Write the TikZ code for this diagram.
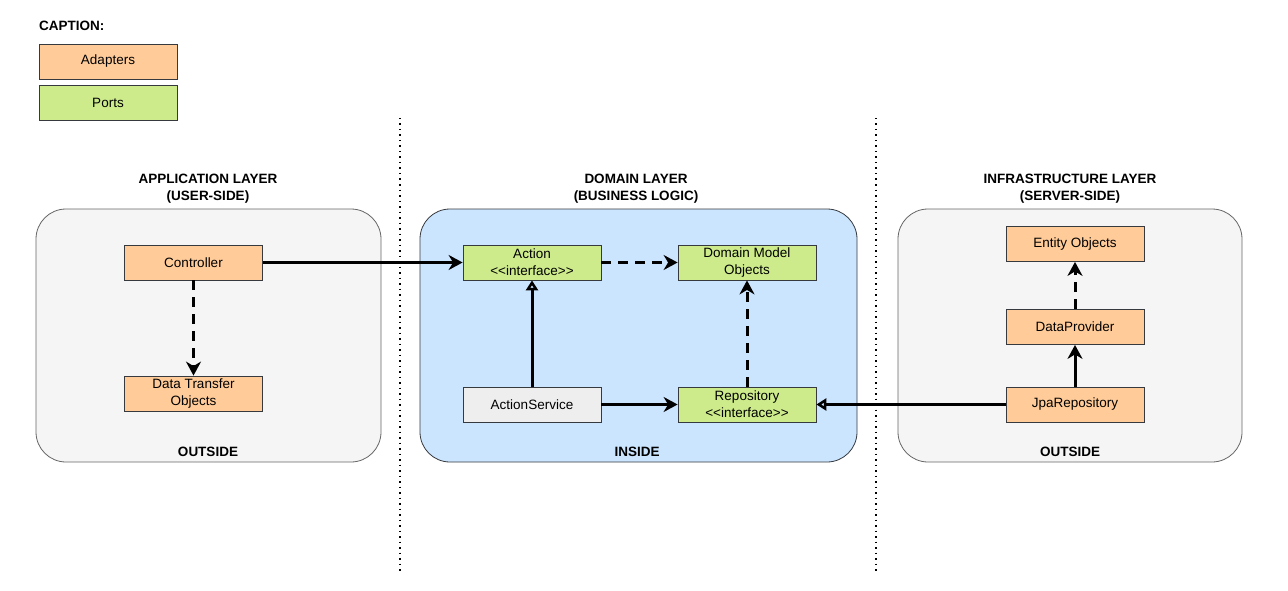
\documentclass[tikz,border=0pt]{standalone}
\usepackage{fontspec}
\setmainfont{Liberation Sans}
\usetikzlibrary{arrows.meta}
\definecolor{adapterfill}{HTML}{FFCC99}
\definecolor{portfill}{HTML}{CDEB8B}
\definecolor{boxline}{HTML}{36393D}
\definecolor{layerfill}{HTML}{F5F5F5}
\definecolor{layerline}{HTML}{666666}
\definecolor{domainfill}{HTML}{CCE5FF}
\definecolor{servicefill}{HTML}{EEEEEE}
\begin{document}
\begin{tikzpicture}[x=1pt,y=-1pt,
  font=\fontsize{13.5}{17}\selectfont,
  layer/.style={draw=layerline, fill=layerfill, rounded corners=30pt, line width=0.8pt},
  box/.style={draw=boxline, line width=0.8pt, minimum width=138pt, minimum height=35pt, align=center, inner sep=1pt},
  adapter/.style={box, fill=adapterfill},
  port/.style={box, fill=portfill},
  service/.style={box, fill=servicefill},
  title/.style={font=\fontsize{13.5}{17}\selectfont\bfseries, align=center},
  link/.style={line width=3pt, -{Stealth[length=14pt, width=15pt, inset=4.5pt]}},
  dep/.style={link, dash pattern=on 10pt off 7pt},
  impl/.style={line width=3pt, -{Triangle[open, length=10pt, width=12pt, line width=2.6pt]}},
  sep/.style={line width=1.5pt, dash pattern=on 1.5pt off 4pt}
]
\useasboundingbox (0,0) rectangle (1288,591);

% legend
\node[anchor=west, inner sep=0pt, font=\fontsize{13.5}{16}\selectfont\bfseries] (cap) at (39,26) {CAPTION:};
\node[adapter] (legA) at (108,61.5) {Adapters};
\node[port] (legP) at (108,103) {Ports};

% layer separators
\coordinate (s1a) at (400,118); \coordinate (s1b) at (400,572);
\coordinate (s2a) at (876,118); \coordinate (s2b) at (876,572);
\draw[sep] (s1a) -- (s1b);
\draw[sep] (s2a) -- (s2b);

% layer containers
\draw[layer] (36,209) rectangle (381,462);
\draw[layer, fill=domainfill, draw=boxline] (420,209) rectangle (857,462);
\draw[layer] (898,209) rectangle (1242,462);

% layer titles
\node[title] (tApp) at (208,189) {APPLICATION LAYER\\(USER-SIDE)};
\node[title] (tDom) at (636,189) {DOMAIN LAYER\\(BUSINESS LOGIC)};
\node[title] (tInf) at (1070,189) {INFRASTRUCTURE LAYER\\(SERVER-SIDE)};
\node[title] (oApp) at (208,451.5) {OUTSIDE};
\node[title] (oDom) at (637,451.5) {INSIDE};
\node[title] (oInf) at (1070,451.5) {OUTSIDE};

% application layer
\node[adapter] (ctrl) at (193.5,262.5) {Controller};
\node[adapter] (dto) at (193.5,393.5) {Data Transfer\\Objects};

% domain layer
\node[port] (action) at (532,262.5) {Action\\<{}<interface>{}>};
\node[port] (model) at (747,262.5) {Domain Model\\Objects};
\node[service] (asvc) at (532,404.5) {ActionService};
\node[port] (repo) at (747,404.5) {Repository\\<{}<interface>{}>};

% infrastructure layer
\node[adapter] (entity) at (1075,244) {Entity Objects};
\node[adapter] (dprov) at (1075,327) {DataProvider};
\node[adapter] (jpa) at (1075,404.5) {JpaRepository};

% connectors
\draw[link] (ctrl) -- (action);
\draw[dep] (ctrl) -- (dto);
\draw[dep] (action) -- (model);
\draw[impl] (asvc) -- (action);
\draw[link] (asvc) -- (repo);
\draw[dep] (repo) -- (model);
\draw[impl] (jpa) -- (repo);
\draw[link] (jpa) -- (dprov);
\draw[dep] (dprov) -- (entity);
\end{tikzpicture}
\end{document}
